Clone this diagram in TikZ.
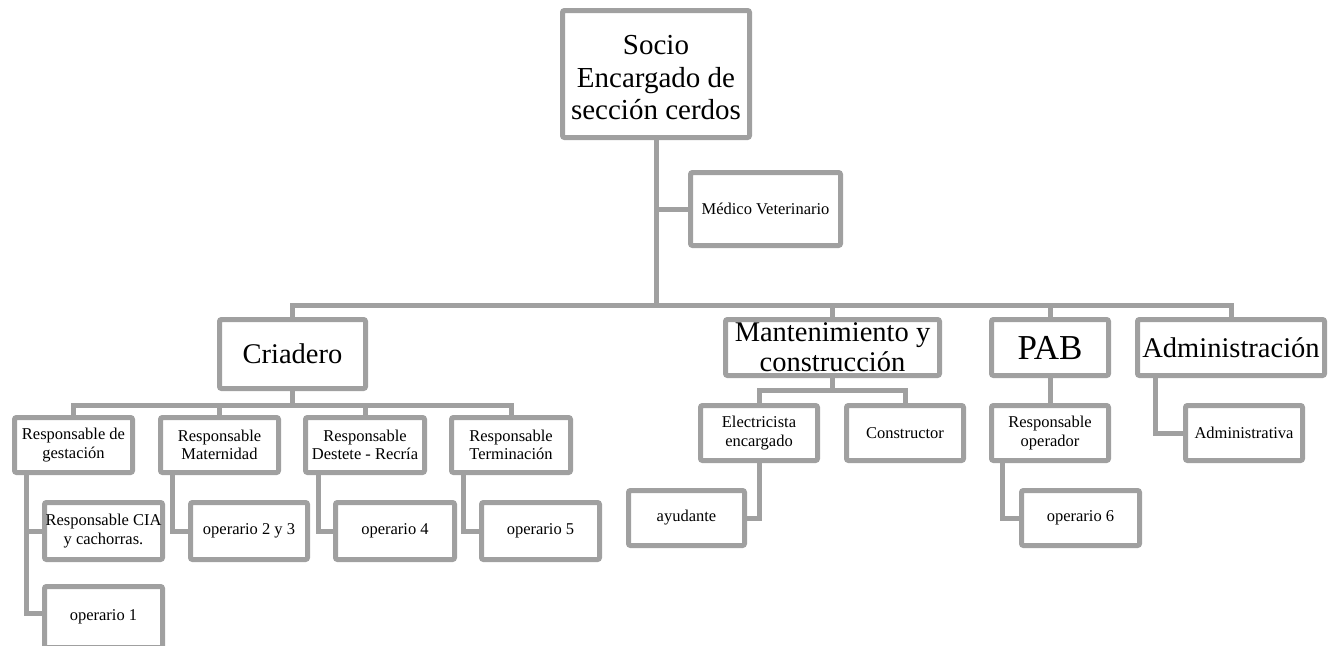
\documentclass[tikz,border=0pt]{standalone}
\usepackage{fontspec}
\setmainfont{Liberation Serif}
\definecolor{linegray}{RGB}{160,160,160}
\tikzset{
  box/.style={draw=linegray, line width=5pt, fill=white, rounded corners=2pt,
    inner sep=0pt, align=center, text=black},
  big/.style={font=\fontsize{28.5}{30}\selectfont},
  head/.style={font=\fontsize{29}{32.5}\selectfont},
  huge/.style={font=\fontsize{35}{37}\selectfont},
  small/.style={font=\fontsize{16.5}{18.5}\selectfont},
  conn/.style={draw=linegray, line width=5pt},
  sz/.style 2 args={minimum width=#1pt, minimum height=#2pt},
}
\begin{document}
\begin{tikzpicture}[x=1pt, y=-1pt]
\useasboundingbox (0,0) rectangle (1329,645);

% top of the chart
\node[box, sz={187}{127}] (socio) at (656,74) {};
\node[head, align=center] (sociotext) at (656,78) {Socio\\Encargado de\\sección cerdos};
\node[box, small, sz={150}{73}] (medico) at (765.5,209) {Médico Veterinario};

% second level
\node[box, big, sz={146}{69}] (criadero) at (292.5,354) {Criadero};
\node[box, big, sz={214}{56}] (mant) at (832.5,347.5) {Mantenimiento y\\construcción};
\node[box, huge, sz={117}{56}] (pab) at (1050,347.5) {PAB};
\node[box, big, sz={187}{56}] (admin) at (1231,347.5) {Administración};

% breeding unit
\node[box, small, sz={118}{55}] (gest) at (73.5,445) {Responsable de\\gestación};
\node[box, small, sz={118}{55}] (mat) at (219.5,445) {Responsable\\Maternidad};
\node[box, small, sz={119}{55}] (dest) at (365,445) {Responsable\\Destete - Recría};
\node[box, small, sz={119}{55}] (term) at (511,445) {Responsable\\Terminación};
\node[box, small, sz={118}{57}] (cia) at (103.5,531) {Responsable CIA\\y cachorras.};
\node[box, small, sz={118}{61}] (op1) at (103.5,617) {operario 1};
\node[box, small, sz={117}{57}] (op23) at (249,531) {operario 2 y 3};
\node[box, small, sz={119}{57}] (op4) at (395,531) {operario 4};
\node[box, small, sz={118}{57}] (op5) at (540.5,531) {operario 5};

% maintenance
\node[box, small, sz={117}{55}] (elec) at (759,433) {Electricista\\encargado};
\node[box, small, sz={117}{55}] (constr) at (905,433) {Constructor};
\node[box, small, sz={116}{55}] (ayud) at (686.5,518) {ayudante};

% PAB
\node[box, small, sz={117}{55}] (resop) at (1050,433) {Responsable\\operador};
\node[box, small, sz={118}{55}] (op6) at (1080.5,518) {operario 6};

% administration
\node[box, small, sz={117}{55}] (admva) at (1244,433) {Administrativa};

% levels of the horizontal buses
\coordinate (bus) at (0,305);
\coordinate (busc) at (0,405);
\coordinate (busm) at (0,390);

% main trunk
\draw[conn] (socio.south) -- (socio.south |- bus);
\draw[conn] (medico.west) -- (medico.west -| socio.south);
\draw[conn] (socio.south |- bus) -| (criadero.north);
\draw[conn] (socio.south |- bus) -| (mant.north);
\draw[conn] (socio.south |- bus) -| (pab.north);
\draw[conn] (socio.south |- bus) -| (admin.north);

% breeding unit
\draw[conn] (criadero.south) -- (criadero.south |- busc);
\draw[conn] (criadero.south |- busc) -| (gest.north);
\draw[conn] (criadero.south |- busc) -| (mat.north);
\draw[conn] (criadero.south |- busc) -| (dest.north);
\draw[conn] (criadero.south |- busc) -| (term.north);
\draw[conn] ([xshift=14pt]gest.south west) |- (cia.west);
\draw[conn] ([xshift=14pt]gest.south west) |- ([yshift=4pt]op1.west);
\draw[conn] ([xshift=14pt]mat.south west) |- (op23.west);
\draw[conn] ([xshift=15pt]dest.south west) |- (op4.west);
\draw[conn] ([xshift=14pt]term.south west) |- (op5.west);

% maintenance
\draw[conn] (mant.south) -- (mant.south |- busm);
\draw[conn] (mant.south |- busm) -| (elec.north);
\draw[conn] (mant.south |- busm) -| (constr.north);
\draw[conn] (elec.south) |- (ayud.east);

% PAB
\draw[conn] (pab.south) -- (resop.north);
\draw[conn] ([xshift=13pt]resop.south west) |- (op6.west);

% administration
\draw[conn] ([xshift=20pt]admin.south west) |- (admva.west);
\end{tikzpicture}
\end{document}
